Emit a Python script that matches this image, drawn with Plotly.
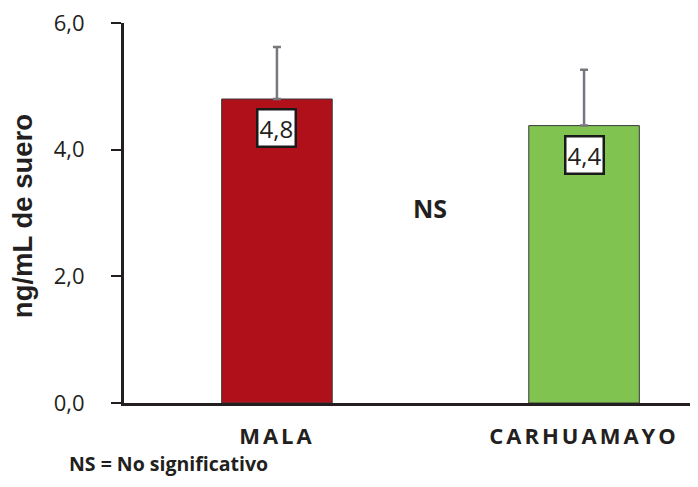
import plotly.graph_objects as go

categories = ["MALA", "CARHUAMAYO"]
values = [4.80, 4.38]
errors_up = [0.82, 0.88]
colors = ["#B0101A", "#80C351"]
yticks = [0, 2, 4, 6]
footnote = "NS = No significativo"
sig_label = "NS"
y_title = "ng/mL de suero"

fig = go.Figure()
fig.add_trace(go.Bar(
    x=categories, y=values, width=0.36,
    marker=dict(color=colors, line=dict(color="#3a3a3a", width=1)),
    error_y=dict(type="data", array=errors_up, arrayminus=[0]*len(values),
                 symmetric=False, color="#77777d", thickness=2.5, width=4),
    hoverinfo="skip",
))

for c, v in zip(categories, values):
    fig.add_annotation(x=c, y=v, xref="x", yref="y",
                       text=f"{v:.1f}".replace(".", ","),
                       showarrow=False, yanchor="top", yshift=-9,
                       bgcolor="white", bordercolor="#1a1a1a", borderwidth=2.5,
                       borderpad=1,
                       font=dict(family="Open Sans", size=24, color="#231f20"))

fig.add_annotation(x=0.5, y=3.08, xref="x", yref="y", text=f"<b>{sig_label}</b>",
                   showarrow=False, font=dict(family="Open Sans", size=25, color="#231f20"))

fig.add_annotation(x=-0.1007, y=-0.2, xref="paper", yref="paper", text=f"<b>{footnote}</b>",
                   showarrow=False, xanchor="left", yanchor="bottom", yshift=0,
                   font=dict(family="Open Sans", size=19.5, color="#231f20"))

fig.add_annotation(x=-0.18, y=0.492, xref="paper", yref="paper", text=f"<b>{y_title}</b>",
                   textangle=-90, showarrow=False, xanchor="center", yanchor="middle",
                   font=dict(family="Liberation Sans", size=27.5, color="#231f20"))

fig.update_layout(
    width=682, height=471,
    margin=dict(l=116, r=0, t=15, b=76, pad=0),
    paper_bgcolor="white", plot_bgcolor="white",
    separators=",.",
    showlegend=False,
    xaxis=dict(
        range=[-0.498, 1.345],
        tickmode="array", tickvals=categories,
        ticktext=[f'<span style="letter-spacing:3px"><b>{c}</b></span>' for c in categories],
        tickfont=dict(family="Open Sans", size=22, color="#231f20"),
        showline=True, linecolor="#231f20", linewidth=3,
        ticks="", ticklabelstandoff=12, showgrid=False, zeroline=False,
    ),
    yaxis=dict(
        range=[0, 6], tickvals=yticks, tickformat=".1f",
        tickfont=dict(family="Open Sans", size=22, color="#231f20"),
        showline=True, linecolor="#231f20", linewidth=3,
        ticks="outside", ticklen=10, tickwidth=2, tickcolor="#231f20",
        ticklabelstandoff=22, ticklabeloverflow="allow",
        showgrid=False, zeroline=False,
    ),
)

fig.write_html("out.html")
